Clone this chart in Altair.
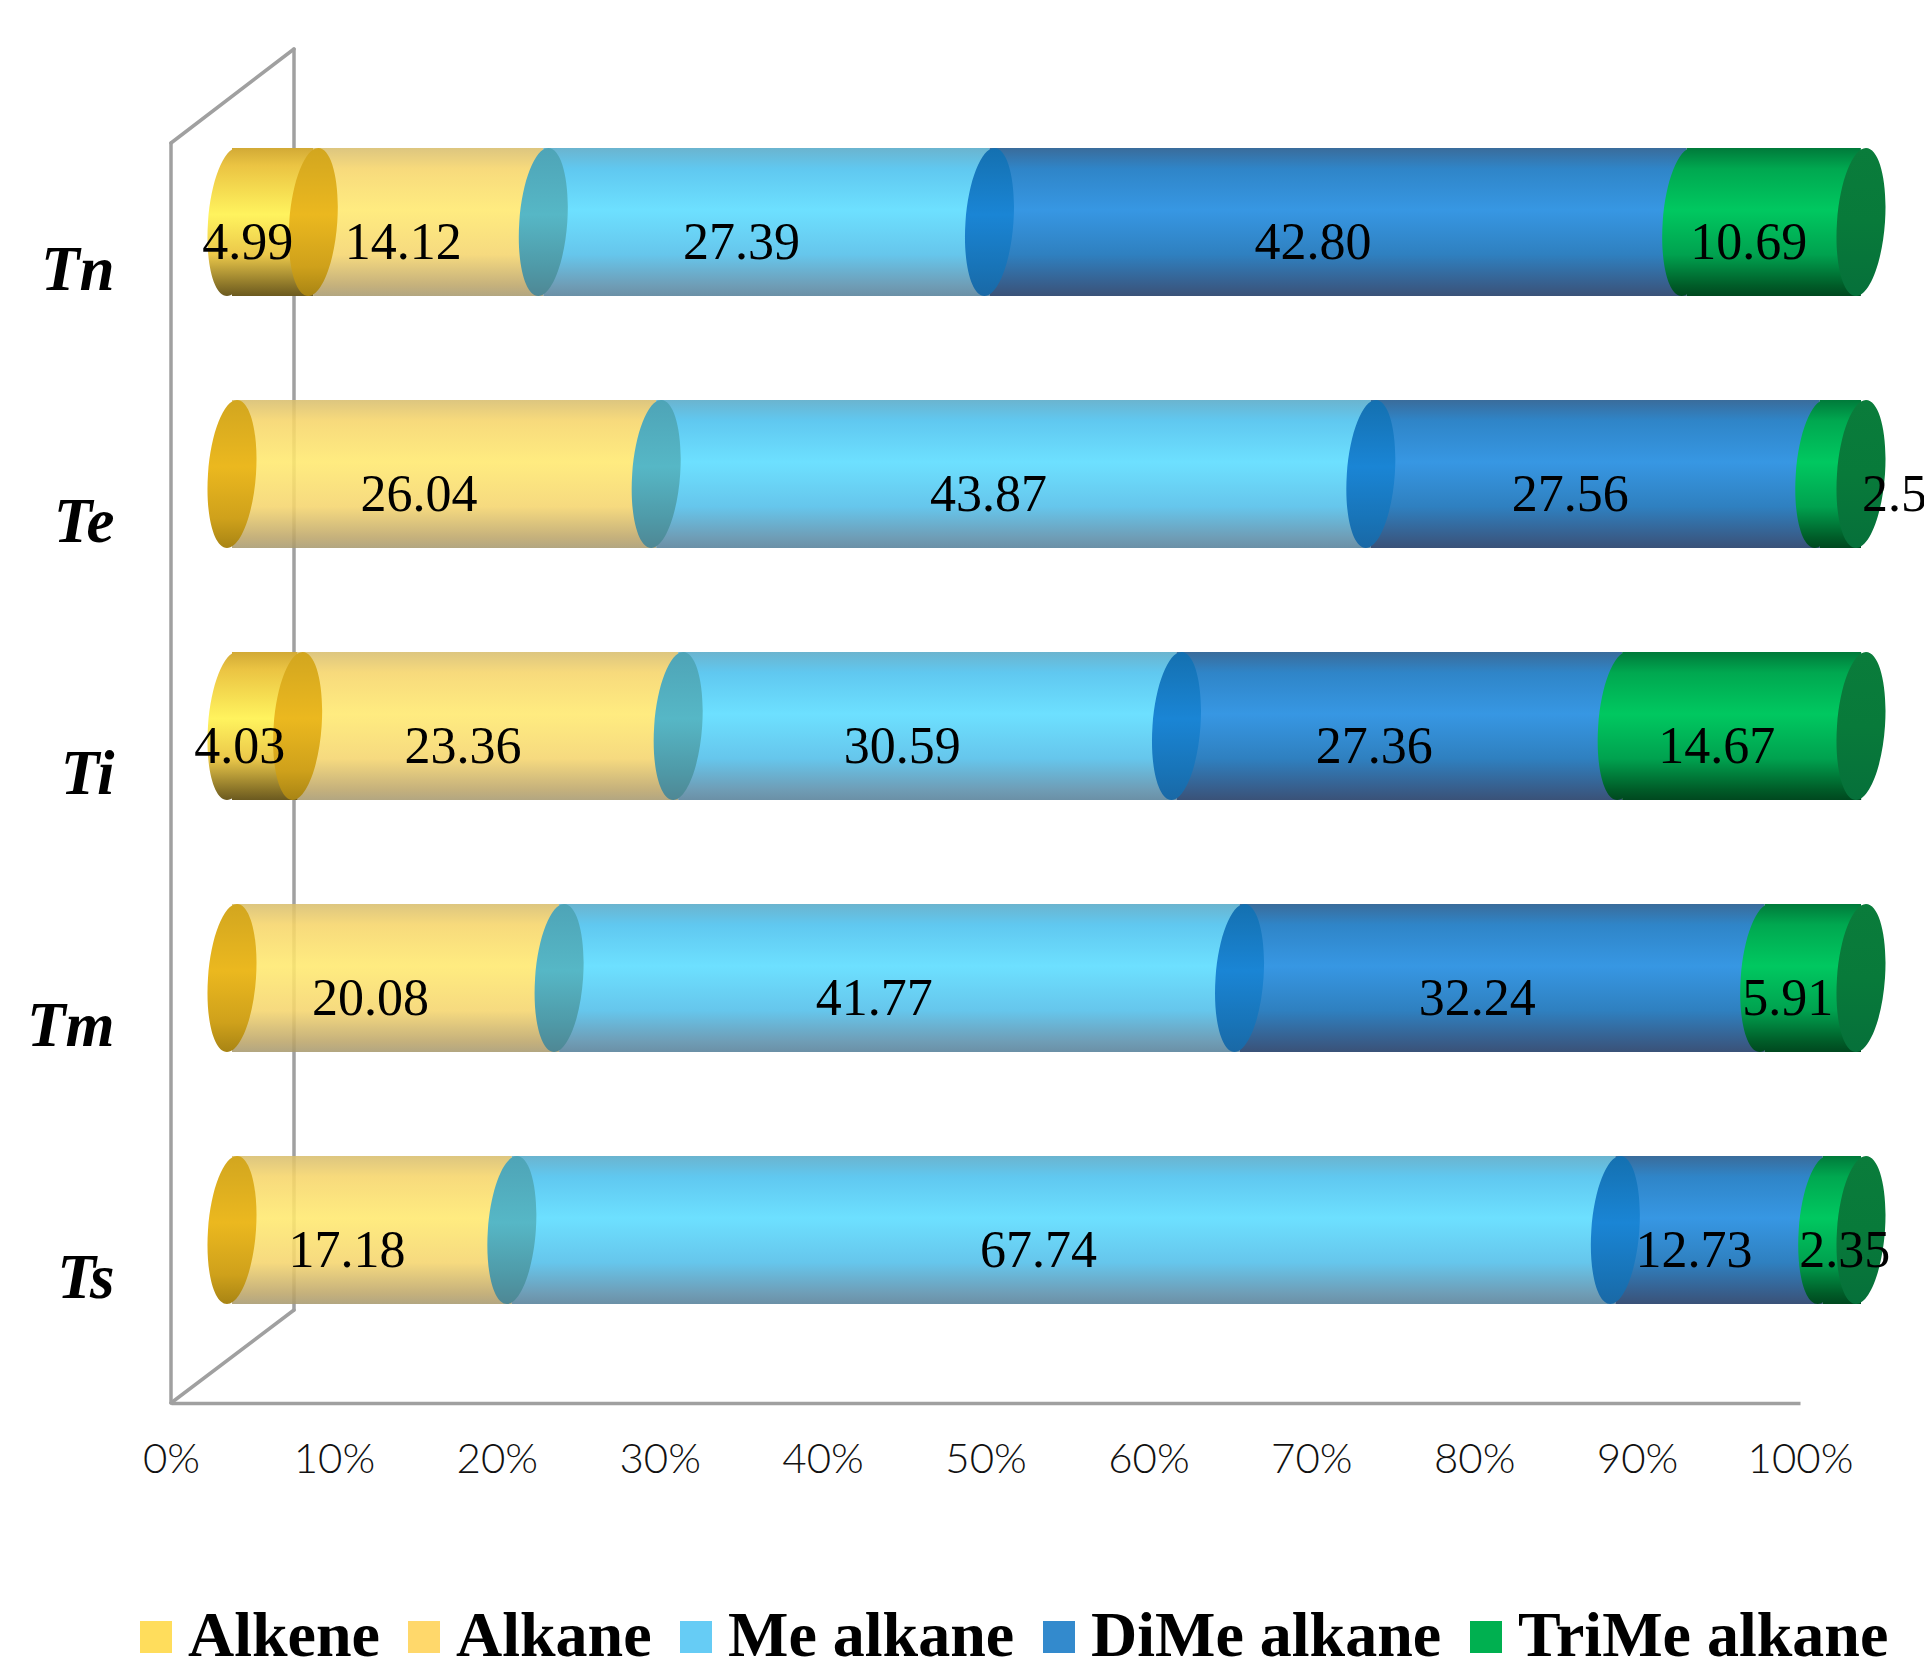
import altair as alt
import pandas as pd

rows = ["Tn", "Te", "Ti", "Tm", "Ts"]
series = ["Alkene", "Alkane", "Me alkane", "DiMe alkane", "TriMe alkane"]
alkene = [4.99, 0, 4.03, 0, 0]
alkane = [14.12, 26.04, 23.36, 20.08, 17.18]
me_alkane = [27.39, 43.87, 30.59, 41.77, 67.74]
dime_alkane = [42.80, 27.56, 27.36, 32.24, 12.73]
trime_alkane = [10.69, 2.53, 14.67, 5.91, 2.35]
swatches = ["#FFDD5C", "#FFD86B", "#66CCF5", "#338ACD", "#00B050"]

recs = []
for i, r in enumerate(rows):
    start = 0.0
    for s, vals in zip(series, [alkene, alkane, me_alkane, dime_alkane, trime_alkane]):
        v = vals[i]
        recs.append(dict(row=r, series=s, value=v, start=start, end=start + v,
                         mid=start + v / 2, label=f"{v:.2f}"))
        start += v
df = pd.DataFrame(recs)
ends = pd.DataFrame(dict(row=rows, end=[100.0] * 5))

W, H = 1629, 1260
DX, DY = 61, -47
BAR_H = 148


def grad(*stops):
    return alt.Gradient(gradient="linear", x1=0, x2=0, y1=0, y2=1,
                        stops=[alt.GradientStop(offset=o, color=c) for o, c in stops])


body_fill = {
    "Alkene": grad((0, "#D2AA36"), (0.12, "#EBC443"), (0.45, "#FFF35E"), (0.72, "#EBC84A"), (0.93, "#8A7428"), (1, "#6B5A20")),
    "Alkane": grad((0, "#D8BE6E"), (0.14, "#F6D56A"), (0.42, "#FFE96F"), (0.72, "#F5D56E"), (0.93, "#BDA66A"), (1, "#A89A70")),
    "Me alkane": grad((0, "#6BB4CF"), (0.14, "#60C8F0"), (0.42, "#6DE0FF"), (0.72, "#66C6EC"), (0.93, "#6F9DB6"), (1, "#6B90A6")),
    "DiMe alkane": grad((0, "#3A6C9B"), (0.14, "#2F85C8"), (0.42, "#3797E3"), (0.72, "#2F80C0"), (0.93, "#385D8A"), (1, "#3A5278")),
    "TriMe alkane": grad((0, "#007A3A"), (0.14, "#00A850"), (0.42, "#00C860"), (0.72, "#00A24F"), (0.93, "#005C28"), (1, "#00481F")),
}
cap_fill = {
    "Alkene": body_fill["Alkene"],
    "Alkane": grad((0, "#D2A61F"), (0.45, "#EBB81F"), (0.8, "#CFA11B"), (1, "#A88414")),
    "Me alkane": grad((0, "#4EA4B7"), (0.45, "#56B7C6"), (0.8, "#4F9AA8"), (1, "#4F8794")),
    "DiMe alkane": grad((0, "#1470B0"), (0.45, "#1A85D5"), (0.8, "#1874B8"), (1, "#1A68A5")),
    "TriMe alkane": body_fill["TriMe alkane"],
}
end_cap_fill = grad((0, "#0A7C3B"), (0.5, "#087A3A"), (1, "#06703A"))

a, s_, k = 24 / 74, 5 / 74, 0.5523
ELL = (f"M{s_:.4f},-1 C{k*a+s_:.4f},-1 {a+s_*k:.4f},{-k} {a:.4f},0 "
       f"C{a-s_*k:.4f},{k} {k*a-s_:.4f},1 {-s_:.4f},1 "
       f"C{-k*a-s_:.4f},1 {-a-s_*k:.4f},{k} {-a:.4f},0 "
       f"C{-a+s_*k:.4f},{-k} {-k*a+s_:.4f},-1 {s_:.4f},-1 Z")
CAP_SIZE = BAR_H ** 2

xs = alt.Scale(domain=[0, 100], nice=False, zero=False)
ys = alt.Scale(domain=rows, paddingInner=0.4, paddingOuter=0.2)
x_axis = alt.Axis(
    values=list(range(0, 101, 10)), labelExpr="datum.value + '%'", title=None, grid=False,
    ticks=False, domainColor="#A0A0A0", domainWidth=3.5, labelFont="Lato", labelFontSize=42,
    labelFontWeight=300, labelColor="#111111", labelPadding=36, labelFlush=False, labelOverlap=False)
x_main = alt.X("start:Q", scale=xs, axis=x_axis)
y_main = alt.Y("row:N", scale=ys, sort=rows, axis=alt.Axis(
    title=None, domain=False, ticks=False, grid=False, labelFont="Liberation Serif",
    labelFontSize=63, labelFontWeight="bold", labelFontStyle="italic", labelColor="black",
    labelPadding=57, labelOffset=2))

layers = []


def wall(x1, y1, x2, y2):
    return alt.Chart(pd.DataFrame({"a": [0]})).mark_rule(color="#A0A0A0", strokeWidth=3.5, strokeCap="round").encode(
        x=alt.value(x1), x2=alt.value(x2), y=alt.value(y1), y2=alt.value(y2))


layers += [wall(0, 0, 0, H), wall(0, 0, 123, -94), wall(123, -94, 123, 1167), wall(0, H, 123, 1167)]

layers.append(alt.Chart(df[df.value == 0]).mark_bar(size=1, opacity=0).encode(
    x=x_main, x2="end:Q", y=y_main,
    color=alt.Color("series:N", scale=alt.Scale(domain=series, range=swatches), legend=alt.Legend(
        title=None, orient="none", legendX=-53, legendY=1462, direction="horizontal",
        columns=5, symbolType="square", symbolSize=1024, symbolOpacity=1, symbolStrokeWidth=0,
        symbolOffset=6, labelFont="Liberation Serif", labelFontSize=64, labelFontWeight="bold",
        labelColor="black", labelLimit=600, labelOffset=0, columnPadding=6, padding=0))))

for s in series:
    d = df[(df.series == s) & (df.value > 0)]
    layers.append(alt.Chart(d).mark_bar(
        size=BAR_H, fill=body_fill[s], opacity=0.88 if s == "Alkane" else 1,
        xOffset=DX, x2Offset=DX, yOffset=DY, y2Offset=DY).encode(
        x=x_main, x2="end:Q", y=y_main))

for s in series:
    d = df[(df.series == s) & (df.value > 0)]
    layers.append(alt.Chart(d).mark_point(
        shape=ELL, size=CAP_SIZE, filled=True, fill=cap_fill[s], opacity=1, strokeWidth=0,
        xOffset=DX, yOffset=DY).encode(x=x_main, y=y_main))

layers.append(alt.Chart(ends).mark_point(
    shape=ELL, size=CAP_SIZE, filled=True, fill=end_cap_fill, opacity=1, strokeWidth=0,
    xOffset=DX, yOffset=DY).encode(x=alt.X("end:Q", scale=xs, axis=x_axis), y=y_main))

txt = df[df.value > 0]
moved = {"Te|TriMe alkane": 92, "Ts|TriMe alkane": 28}
keys = txt.row + "|" + txt.series
layers.append(alt.Chart(txt[~keys.isin(moved)]).mark_text(
    font="Liberation Serif", fontSize=52, color="black", dx=36, dy=-26).encode(
    x=alt.X("mid:Q", scale=xs, axis=x_axis), y=y_main, text="label:N"))
for key, extra in moved.items():
    layers.append(alt.Chart(txt[keys == key]).mark_text(
        font="Liberation Serif", fontSize=52, color="black", dx=36 + extra, dy=-26).encode(
        x=alt.X("mid:Q", scale=xs, axis=x_axis), y=y_main, text="label:N"))

chart = alt.layer(*layers).resolve_scale(x="shared", y="shared").properties(
    width=W, height=H, background="white",
    autosize=alt.AutoSizeParams(type="none"),
    padding={"left": 163, "top": 135, "right": 124, "bottom": 255}
).configure_view(stroke=None)

chart.save("out.html", embed_options={"renderer": "svg", "actions": False})
